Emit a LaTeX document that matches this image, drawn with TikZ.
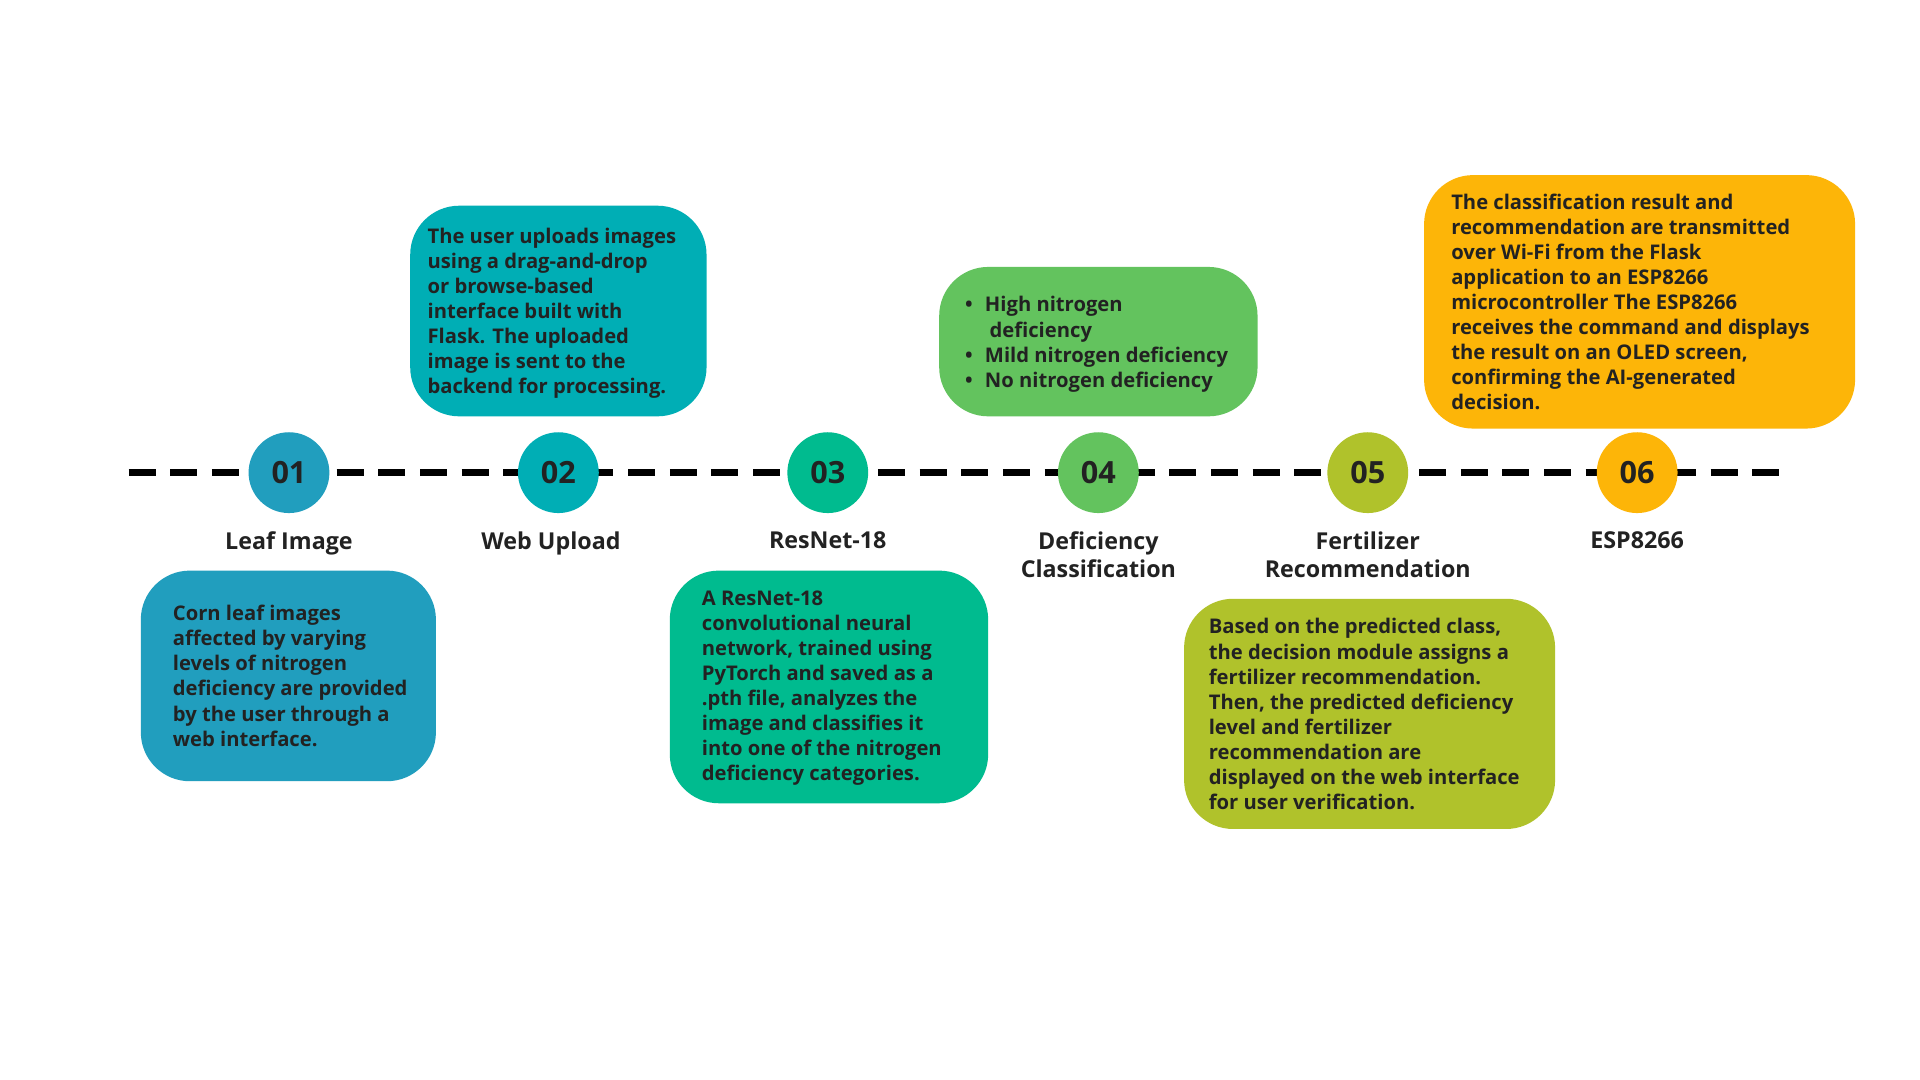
\documentclass[tikz,border=0pt]{standalone}
\usepackage{fontspec}
\setmainfont{Open Sans}
\usetikzlibrary{positioning}
\definecolor{cA}{RGB}{33,158,190}
\definecolor{cB}{RGB}{0,174,181}
\definecolor{cC}{RGB}{0,187,143}
\definecolor{cD}{RGB}{99,195,94}
\definecolor{cE}{RGB}{176,194,43}
\definecolor{cF}{RGB}{253,181,8}
\definecolor{ink}{RGB}{34,34,34}
\tikzset{
  step/.style={circle, fill=#1, minimum size=66pt, inner sep=0pt, text=ink, font=\fontsize{25}{25}\selectfont\bfseries},
  card/.style={rounded corners=40pt, fill=#1},
  cardtext/.style={anchor=north west, align=left, inner sep=0pt, text=ink, font=\fontsize{16.5}{20.5}\selectfont\bfseries},
  caption/.style={anchor=north, align=center, inner sep=0pt, text=ink, font=\fontsize{19}{23}\selectfont\bfseries}
}
\begin{document}
\begin{tikzpicture}[x=1pt, y=-1pt]
  \useasboundingbox[fill=white] (0,0) rectangle (1568,882);
  % timeline
  \coordinate (start) at (105,386);
  \coordinate (stop) at (1460,386);
  \draw[line width=6pt, dash pattern=on 22pt off 12pt] (start) -- (stop);
  % steps
  \foreach \n/\x/\c in {01/236/cA,02/456/cB,03/676/cC,04/897/cD,05/1117/cE,06/1337/cF}
    \node[step=\c] (step-\n) at (\x,386) {\n};
  % captions
  \node[caption] (cap-01) at (236,434) {Leaf Image};
  \node[caption] (cap-02) at (450,434) {Web Upload};
  \node[caption] (cap-03) at (676,434) {ResNet-18};
  \node[caption] (cap-04) at (897,434) {Deficiency\\Classification};
  \node[caption] (cap-05) at (1117,434) {Fertilizer\\Recommendation};
  \node[caption] (cap-06) at (1337,434) {ESP8266};
  % cards
  \fill[card=cA] (115,466) rectangle (356,638);
  \node[cardtext] (text-01) at (141,494) {Corn leaf images\\affected by varying\\levels of nitrogen\\deficiency are provided\\by the user through a\\web interface.};
  \fill[card=cB] (335,168) rectangle (577,340);
  \node[cardtext] (text-02) at (349,186) {The user uploads images\\using a drag-and-drop\\or browse-based\\interface built with\\Flask. The uploaded\\image is sent to the\\backend for processing.};
  \fill[card=cC] (547,466) rectangle (807,656);
  \node[cardtext] (text-03) at (573,482) {A ResNet-18\\convolutional neural\\network, trained using\\PyTorch and saved as a\\.pth file, analyzes the\\image and classifies it\\into one of the nitrogen\\deficiency categories.};
  \fill[card=cD] (767,218) rectangle (1027,340);
  \node[cardtext] (text-04) at (788,242) {\textbullet\hspace{10pt}High nitrogen\\\hspace{20pt}deficiency\\\textbullet\hspace{10pt}Mild nitrogen deficiency\\\textbullet\hspace{10pt}No nitrogen deficiency};
  \fill[card=cE] (967,489) rectangle (1270,677);
  \node[cardtext] (text-05) at (987,505) {Based on the predicted class,\\the decision module assigns a\\fertilizer recommendation.\\Then, the predicted deficiency\\level and fertilizer\\recommendation are\\displayed on the web interface\\for user verification.};
  \fill[card=cF] (1163,143) rectangle (1515,350);
  \node[cardtext] (text-06) at (1185,158) {The classification result and\\recommendation are transmitted\\over Wi-Fi from the Flask\\application to an ESP8266\\microcontroller The ESP8266\\receives the command and displays\\the result on an OLED screen,\\confirming the AI-generated\\decision.};
\end{tikzpicture}
\end{document}
